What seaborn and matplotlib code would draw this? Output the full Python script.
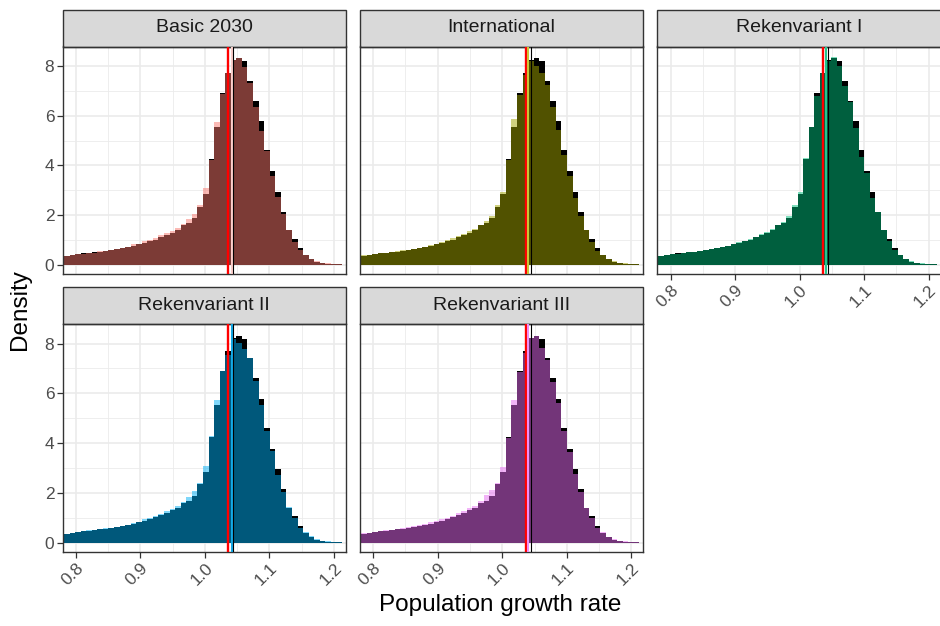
import numpy as np
import pandas as pd
import seaborn as sns
import matplotlib.pyplot as plt
from matplotlib.patches import Rectangle

OUT_IMG = "out.png"

SCENARIOS = ["Basic 2030", "International", "Rekenvariant I", "Rekenvariant II", "Rekenvariant III"]
SCEN_COLORS = ["#F8766D", "#A3A500", "#00BF7D", "#00B0F6", "#E76BF3"]
MEAN_LINE_COLORS = ["#FBCFCB", "#C9C53A", "#27C48E", "#14A9E6", "#EE8EF5"]

# histogram bins (left edge of first bin + width)
BIN_START = 0.7728
BIN_WIDTH = 0.00862

# baseline density (black bars, same in every panel)
BASELINE = [0.36, 0.38, 0.39, 0.44, 0.47, 0.50, 0.52, 0.55, 0.58, 0.61,
            0.64, 0.68, 0.72, 0.78, 0.84, 0.90, 0.96, 1.03, 1.12, 1.21,
            1.31, 1.42, 1.60, 1.70, 1.90, 2.35, 2.86, 4.26, 5.53, 6.89,
            7.69, 8.23, 8.30, 8.20, 7.40, 6.60, 5.78, 4.60, 3.78, 2.95,
            2.15, 1.41, 1.07, 0.68, 0.41, 0.24, 0.14, 0.09, 0.06, 0.05,
            0.04, 0.02]

BASIC_2030 = [0.37, 0.38, 0.39, 0.43, 0.46, 0.48, 0.51, 0.56, 0.57, 0.63,
              0.64, 0.70, 0.73, 0.84, 0.86, 0.97, 1.00, 1.09, 1.20, 1.30,
              1.38, 1.48, 1.64, 1.86, 2.04, 2.40, 3.09, 4.21, 5.76, 6.85,
              7.72, 8.21, 8.30, 7.93, 7.29, 6.36, 5.38, 4.56, 3.58, 2.75,
              2.05, 1.40, 0.95, 0.61, 0.42, 0.25, 0.15, 0.10, 0.07, 0.05,
              0.04, 0.02]

INTERNATIONAL = [0.37, 0.39, 0.40, 0.44, 0.48, 0.50, 0.53, 0.56, 0.60, 0.62,
                 0.66, 0.70, 0.75, 0.81, 0.87, 0.94, 1.00, 1.08, 1.17, 1.27,
                 1.36, 1.47, 1.62, 1.78, 1.98, 2.42, 2.95, 4.20, 5.86, 6.83,
                 7.63, 8.20, 8.00, 7.69, 7.23, 6.36, 5.42, 4.42, 3.58, 2.71,
                 1.99, 1.42, 0.95, 0.57, 0.41, 0.25, 0.15, 0.10, 0.07, 0.05,
                 0.04, 0.02]

REKENVARIANT_I = [0.36, 0.38, 0.40, 0.43, 0.47, 0.50, 0.53, 0.55, 0.59, 0.61,
                  0.65, 0.69, 0.73, 0.79, 0.85, 0.92, 0.98, 1.05, 1.14, 1.24,
                  1.34, 1.46, 1.63, 1.75, 1.96, 2.40, 2.95, 4.28, 5.56, 6.80,
                  7.69, 8.20, 8.35, 8.00, 7.20, 6.55, 5.51, 4.32, 3.69, 2.71,
                  2.12, 1.42, 0.98, 0.61, 0.42, 0.25, 0.15, 0.10, 0.07, 0.05,
                  0.04, 0.02]

REKENVARIANT_II = [0.37, 0.38, 0.40, 0.44, 0.47, 0.51, 0.53, 0.56, 0.59, 0.62,
                   0.66, 0.70, 0.74, 0.82, 0.86, 0.95, 1.00, 1.08, 1.18, 1.28,
                   1.37, 1.48, 1.66, 1.86, 2.08, 2.41, 3.08, 4.28, 5.72, 6.89,
                   7.52, 8.20, 8.03, 7.79, 7.40, 6.49, 5.55, 4.49, 3.68, 2.74,
                   2.04, 1.45, 0.99, 0.61, 0.44, 0.28, 0.16, 0.10, 0.07, 0.05,
                   0.04, 0.02]

REKENVARIANT_III = [0.37, 0.39, 0.40, 0.44, 0.48, 0.51, 0.54, 0.57, 0.60, 0.63,
                    0.67, 0.71, 0.76, 0.83, 0.88, 0.96, 1.02, 1.10, 1.19, 1.29,
                    1.39, 1.50, 1.68, 1.92, 2.12, 2.42, 3.05, 4.22, 5.72, 6.85,
                    7.60, 8.22, 8.32, 7.80, 7.32, 6.45, 5.60, 4.50, 3.65, 2.78,
                    2.05, 1.42, 0.99, 0.62, 0.43, 0.26, 0.15, 0.10, 0.07, 0.05,
                    0.04, 0.02]

SCEN_DENSITIES = [BASIC_2030, INTERNATIONAL, REKENVARIANT_I, REKENVARIANT_II, REKENVARIANT_III]

# vertical reference lines
RED_LINE = 1.0362
BASELINE_MEAN = 1.0440
SCEN_MEANS = [1.0415, 1.0404, 1.0404, 1.0425, 1.0396]

# --- data frame ---
edges = [BIN_START + BIN_WIDTH * k for k in range(len(BASELINE) + 1)]
centers = [e + BIN_WIDTH / 2 for e in edges[:-1]]
rows = []
for name, dens in zip(SCENARIOS, SCEN_DENSITIES):
    for c, b, s in zip(centers, BASELINE, dens):
        rows.append({"Scenario": name, "x": c, "baseline": b, "scenario": s})
df = pd.DataFrame(rows)

sns.set_theme(style="white")
plt.rcParams['font.family'] = ['Liberation Sans', 'DejaVu Sans']

fig = plt.figure(figsize=(9.4, 6.26), dpi=100)
W, H = 940, 626
col_left = [62.7, 360.0, 657.3]
pan_w = 283.3
row_top = [46.5, 324.3]
pan_h = 227.7
strip_h = 37.0

for i, name in enumerate(SCENARIOS):
    r, c = divmod(i, 3)
    ax = fig.add_axes([col_left[c] / W, (H - row_top[r] - pan_h) / H, pan_w / W, pan_h / H])
    sub = df[df["Scenario"] == name]

    sns.histplot(data=sub, x="x", weights="baseline", bins=edges, stat="count",
                 element="step", fill=True, color="black", alpha=1, linewidth=0, ax=ax)
    sns.histplot(data=sub, x="x", weights="scenario", bins=edges, stat="count",
                 element="step", fill=True, color=SCEN_COLORS[i], alpha=0.5, linewidth=0, ax=ax)

    ax.axvline(RED_LINE, color="red", lw=1.7, zorder=5)
    ax.axvline(SCEN_MEANS[i], color=MEAN_LINE_COLORS[i], lw=1.5, zorder=5)
    ax.axvline(BASELINE_MEAN, color="black", lw=0.8, zorder=5)

    ax.set_xlim(0.7795, 1.2186)
    ax.set_ylim(-0.36, 8.77)
    ax.set_xticks([0.8, 0.9, 1.0, 1.1, 1.2])
    ax.set_xticks([0.85, 0.95, 1.05, 1.15], minor=True)
    ax.set_yticks([0, 2, 4, 6, 8])
    ax.set_yticks([1, 3, 5, 7], minor=True)
    ax.set_xticklabels(["0.8", "0.9", "1.0", "1.1", "1.2"])
    ax.set_axisbelow(True)
    ax.grid(which="major", color="#EBEBEB", lw=1.2)
    ax.grid(which="minor", color="#EBEBEB", lw=0.6)
    ax.set_xlabel("")
    ax.set_ylabel("")
    for sp in ax.spines.values():
        sp.set_visible(True)
        sp.set_color("#333333")
        sp.set_linewidth(1.0)

    ax.tick_params(which="major", length=4, width=0.9, color="#333333",
                   labelsize=12.5, labelcolor="#4D4D4D", pad=2)
    ax.tick_params(which="minor", length=0)
    for lab in ax.get_xticklabels():
        lab.set_rotation(45)
        lab.set_ha("right")
        lab.set_va("top")
        lab.set_rotation_mode("anchor")
    show_x = (r == 1) or (c == 2)
    ax.tick_params(axis="x", bottom=show_x, labelbottom=show_x)
    ax.tick_params(axis="y", left=(c == 0), labelleft=(c == 0))

    # strip header
    sh = strip_h / pan_h
    ax.add_patch(Rectangle((0, 1), 1, sh, transform=ax.transAxes, clip_on=False,
                           facecolor="#D9D9D9", edgecolor="#333333", lw=1.0))
    ax.text(0.5, 1 + sh / 2, name, transform=ax.transAxes, ha="center", va="center",
            fontsize=14, color="#1A1A1A")

fig.text(500 / W, 1 - 605 / H, "Population growth rate", ha="center", va="center",
         fontsize=17.5, color="black")
fig.text(20 / W, 1 - 310 / H, "Density", ha="center", va="center", rotation=90,
         fontsize=17.5, color="black")

fig.savefig(OUT_IMG, dpi=100)
